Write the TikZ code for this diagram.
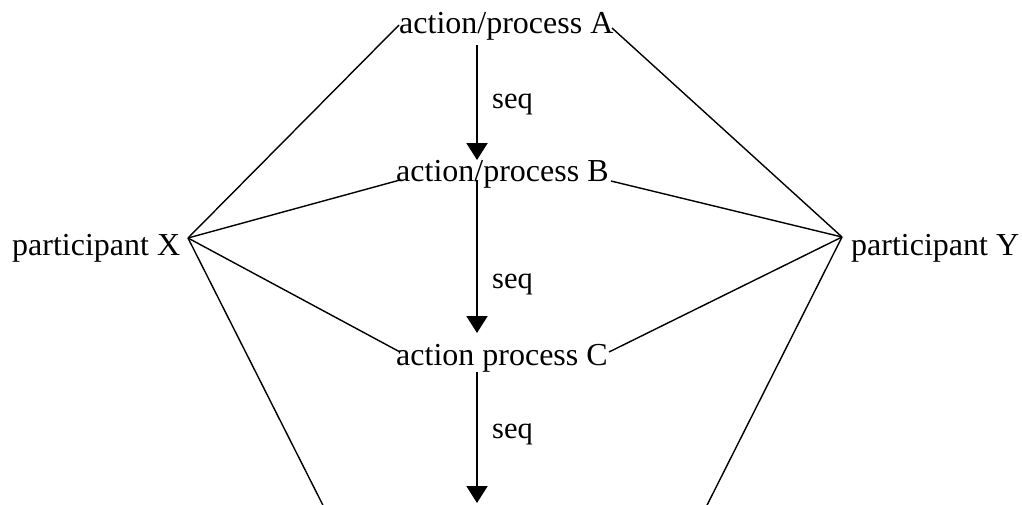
\documentclass[tikz,border=0pt]{standalone}
\usepackage{fontspec}
\setmainfont{Liberation Serif}
\usetikzlibrary{arrows.meta}
\begin{document}
\begin{tikzpicture}[x=1pt,y=-1pt,
  lbl/.style={inner sep=0pt,anchor=base west,font=\fontsize{32}{36}\selectfont},
  seqlbl/.style={inner sep=0pt,anchor=base west,font=\fontsize{30.5}{34}\selectfont},
  link/.style={line width=1.4pt},
  seqarrow/.style={line width=2pt,-{Triangle[width=21pt,length=17pt]}}]
\useasboundingbox (0,0) rectangle (1022,504);
\clip (0,0) rectangle (1022,504);
% text nodes
\node[lbl] (A) at (399,33) {action/process A};
\node[lbl] (B) at (396,181) {action/process B};
\node[lbl] (C) at (396,365) {action process C};
\node[lbl] (X) at (12,255) {participant X};
\node[lbl] (Y) at (851,255) {participant Y};
\node[seqlbl] (s1) at (492,108) {seq};
\node[seqlbl] (s2) at (492,288) {seq};
\node[seqlbl] (s3) at (492,438) {seq};
% attachment points
\coordinate (xp) at (188,238);
\coordinate (yp) at (842,237);
\coordinate (aw) at (399,25);
\coordinate (ae) at (612,28);
\coordinate (bw) at (400,180);
\coordinate (be) at (611,181);
\coordinate (cw) at (400,352);
\coordinate (ce) at (609,352);
\coordinate (dw) at (339.5,538);
\coordinate (de) at (691,537);
\coordinate (a1) at (477,45);
\coordinate (b0) at (477,160);
\coordinate (b1) at (477,180);
\coordinate (c0) at (477,333);
\coordinate (c1) at (477,372);
\coordinate (d0) at (477,503);
% participant links
\draw[link] (xp) -- (aw);
\draw[link] (xp) -- (bw);
\draw[link] (xp) -- (cw);
\draw[link] (xp) -- (dw);
\draw[link] (yp) -- (ae);
\draw[link] (yp) -- (be);
\draw[link] (yp) -- (ce);
\draw[link] (yp) -- (de);
% sequence arrows
\draw[seqarrow] (a1) -- (b0);
\draw[seqarrow] (b1) -- (c0);
\draw[seqarrow] (c1) -- (d0);
\end{tikzpicture}
\end{document}
